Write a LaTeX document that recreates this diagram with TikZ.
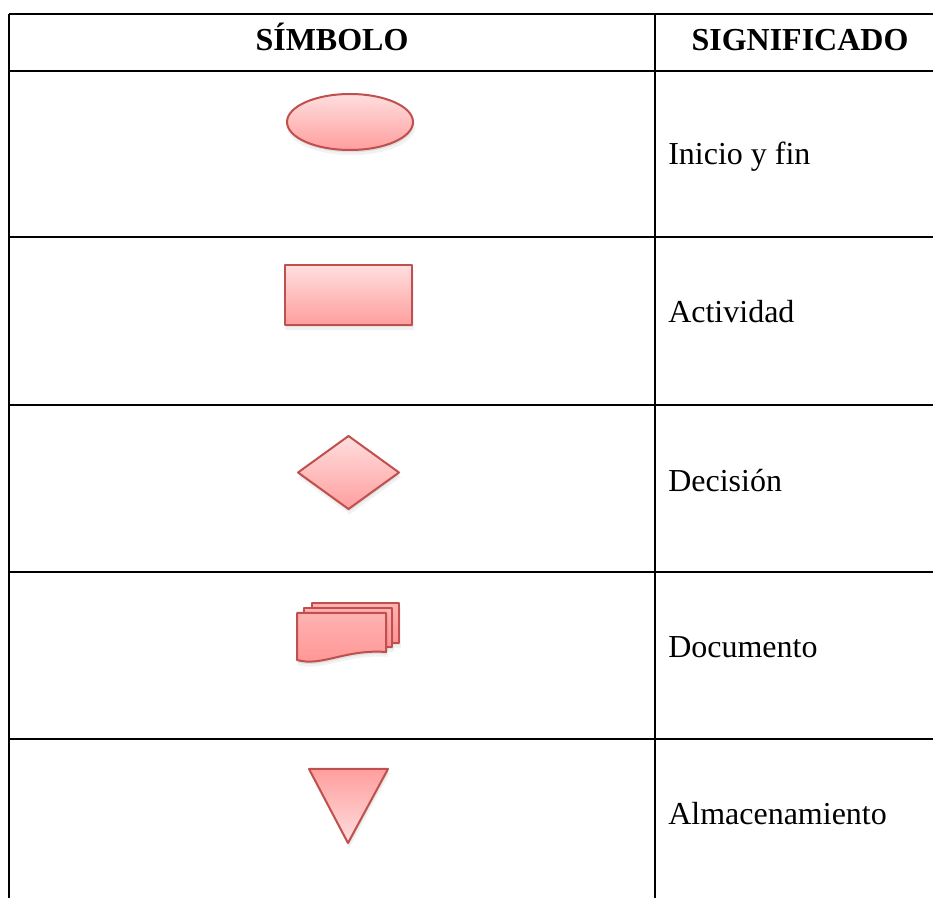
\documentclass[tikz,border=0pt]{standalone}
\usepackage{fontspec}
\setmainfont{Liberation Serif}
\usetikzlibrary{shadows}
\definecolor{symline}{HTML}{C0504D}
\definecolor{symtop}{HTML}{FFDEDE}
\definecolor{symbot}{HTML}{FF9E9E}
\definecolor{doctop}{HTML}{FFB2B2}
\definecolor{docbot}{HTML}{FF9494}
\begin{document}
\begin{tikzpicture}[x=0.75pt,y=-0.75pt,
  rule/.style={line width=1.6pt, black},
  symshade/.style={draw=symline, line width=1.5pt, line join=round,
    drop shadow={shadow xshift=0.6pt, shadow yshift=-1.8pt, opacity=0.16},
    drop shadow={shadow xshift=0.9pt, shadow yshift=-3.4pt, shadow scale=1.02, opacity=0.1}},
  lightdown/.style={symshade, top color=symtop, bottom color=symbot},
  lightup/.style={symshade, top color=symbot, bottom color=symtop},
  docpage/.style={symshade, top color=doctop, bottom color=docbot},
  headtxt/.style={font=\fontsize{24}{29}\selectfont\bfseries, inner sep=0pt, anchor=base},
  meantxt/.style={font=\fontsize{24}{29}\selectfont, inner sep=0pt, anchor=base west}]
\useasboundingbox (0,0) rectangle (933,898);
% table rules
\draw[rule] (9,14) -- (940,14);
\foreach \yy in {71,237,405,572,739} \draw[rule] (9,\yy) -- (940,\yy);
\draw[rule] (9,14) -- (9,905);
\draw[rule] (655,14) -- (655,905);
% header
\node[headtxt] (h1) at (332,51) {SÍMBOLO};
\node[headtxt] (h2) at (800,51) {SIGNIFICADO};
% symbols
\path[lightdown] (350,122) ellipse [x radius=63, y radius=28];
\path[lightdown] (285,265) rectangle (412,325);
\path[lightdown] (298,472.5) -- (348.5,436) -- (399,472.5) -- (348.5,509) -- cycle;
\path[docpage] (312,603) rectangle (399,643);
\path[docpage] (304,608) rectangle (392,647);
\path[docpage] (297,613) -- (386,613) -- (386,652)
   .. controls (345,649) and (322,667) .. (297,660) -- cycle;
\path[lightup] (309,769) -- (388,769) -- (348,843) -- cycle;
% meanings
\node[meantxt] (m1) at (668,165) {Inicio y fin};
\node[meantxt] (m2) at (668,323) {Actividad};
\node[meantxt] (m3) at (668,492) {Decisión};
\node[meantxt] (m4) at (668,658) {Documento};
\node[meantxt] (m5) at (668,824) {Almacenamiento};
\end{tikzpicture}
\end{document}
